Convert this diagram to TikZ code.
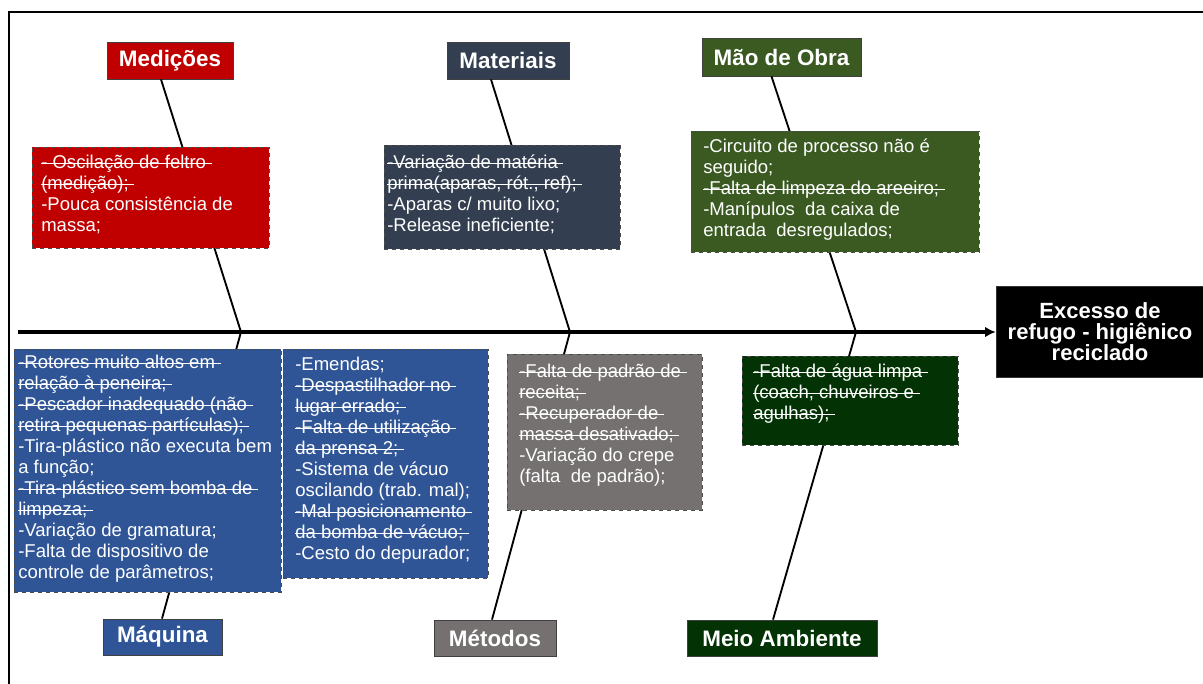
\documentclass[tikz,border=0pt]{standalone}
\usepackage{fontspec}
\setmainfont{Liberation Sans}
\usetikzlibrary{arrows.meta,positioning,calc}
\definecolor{medred}{HTML}{C00000}
\definecolor{matslate}{HTML}{333F50}
\definecolor{maogreen}{HTML}{3A5A22}
\definecolor{maqblue}{HTML}{2F5597}
\definecolor{metgray}{HTML}{767171}
\definecolor{meiogreen}{HTML}{033305}
\newsavebox\strkbox
\newcommand\strk[1]{\sbox\strkbox{#1}\usebox\strkbox\llap{\rule[0.27em]{\wd\strkbox}{0.6pt}}\rule[0.27em]{0.3em}{0.6pt}}

\begin{document}
\begin{tikzpicture}[x=0.75pt,y=-0.75pt,>=Latex]
\tikzset{lbl/.style 2 args={draw=black!75,line width=0.6pt,text=white,inner sep=0pt,font=\fontsize{16.8}{18}\selectfont\bfseries,minimum width=#1*0.75pt,minimum height=#2*0.75pt},
det/.style 2 args={draw=black!70,dashed,line width=0.6pt,anchor=north west,inner sep=0pt,minimum width=#1*0.75pt,minimum height=#2*0.75pt},
txt/.style={anchor=north west,inner sep=0pt,align=left,text=white,font=\fontsize{13.9}{15.75}\selectfont,execute at begin node=\strut},
bone/.style={line width=1.4pt,draw=black},
spine/.style={line width=2.8pt,draw=black,-{Latex[length=8pt,width=8pt]}}}
\useasboundingbox (0,0) rectangle (1203,683);
\clip (0,0) rectangle (1203,683);
\fill[white] (0,0) rectangle (1203,683);
\draw[line width=1.6pt] (9,12) rectangle (1260,740);
% categories
\node[lbl={126}{37},fill=medred] (med) at (170,60.5) {Medições};
\node[lbl={122}{37},fill=matslate] (mat) at (508,60.5) {Materiais};
\node[lbl={159}{38},fill=maogreen] (mao) at (781.5,57) {Mão de Obra};
\node[lbl={119}{36},fill=maqblue] (maq) at (162.5,637) {Máquina};
\node[lbl={122}{36},fill=metgray] (met) at (495,638) {Métodos};
\node[lbl={190}{36},fill=meiogreen] (meio) at (782,638) {Meio Ambiente};
% spine and bones
\coordinate (tail) at (18,332);
\coordinate (j1) at (241,332);
\coordinate (j2) at (570,332);
\coordinate (j3) at (856,332);
\draw[bone] ($(med.south)+(-9,0)$) -- (j1);
\draw[bone] ($(maq.north)+(-0.5,0)$) -- (j1);
\draw[bone] ($(mat.south)+(-17,0)$) -- (j2);
\draw[bone] ($(met.north)+(-3,0)$) -- (j2);
\draw[bone] ($(mao.south)+(-10,0)$) -- (j3);
\draw[bone] ($(meio.north)+(-9,0)$) -- (j3);
% causes
\node[det={237}{101},fill=medred] (medbox) at (32,147) {};
\node[txt,below right=6pt and 6.75pt of medbox.north west] (medtxt) {\strk{- Oscilação de feltro}\\\strk{(medição);}\\-Pouca consistência de\\massa;};
\node[det={236}{104},fill=matslate] (matbox) at (384,145) {};
\node[txt,below right=7.5pt and 2.25pt of matbox.north west] (mattxt) {\strk{-Variação de matéria}\\\strk{prima(aparas, rót., ref);}\\-Aparas c/ muito lixo;\\-Release ineficiente;};
\node[det={288}{121},fill=maogreen] (maobox) at (691,131) {};
\node[txt,below right=6pt and 9pt of maobox.north west] (maotxt) {-Circuito de processo não é\\seguido;\\\strk{-Falta de limpeza do areeiro;}\\-Manípulos\ \ da caixa de\\entrada\ \ desregulados;};
\node[det={267}{243},fill=maqblue] (maqbox) at (14,349) {};
\node[txt,below right=4.5pt and 3pt of maqbox.north west] (maqtxt) {\strk{-Rotores muito altos em}\\\strk{relação à peneira;}\\\strk{-Pescador inadequado (não}\\\strk{retira pequenas partículas);}\\-Tira-plástico não executa bem\\a função;\\\strk{-Tira-plástico sem bomba de}\\\strk{limpeza;}\\-Variação de gramatura;\\-Falta de dispositivo de\\controle de parâmetros;};
\node[det={205}{229},fill=maqblue] (maqbox2) at (283,349) {};
\node[txt,below right=6pt and 9pt of maqbox2.north west] (maqtxt2) {-Emendas;\\\strk{-Despastilhador no}\\\strk{lugar errado;}\\\strk{-Falta de utilização}\\\strk{da prensa 2;}\\-Sistema de vácuo\\oscilando (trab. mal);\\\strk{-Mal posicionamento}\\\strk{da bomba de vácuo;}\\-Cesto do depurador;};
\node[det={195}{156},fill=metgray] (metbox) at (507,354) {};
\node[txt,below right=7.5pt and 9pt of metbox.north west] (mettxt) {\strk{-Falta de padrão de}\\\strk{receita;}\\\strk{-Recuperador de}\\\strk{massa desativado;}\\-Variação do crepe\\(falta\ \ de padrão);};
\node[det={216}{89},fill=meiogreen] (meiobox) at (742,356) {};
\node[txt,below right=6pt and 8.25pt of meiobox.north west] (meiotxt) {\strk{-Falta de água limpa}\\\strk{(coach, chuveiros e}\\\strk{agulhas);}};
% effect
\node[draw=black!80,fill=black,text=white,align=center,inner sep=0pt,font=\fontsize{16.5}{16}\selectfont\bfseries,minimum width=156pt,minimum height=68.25pt] (eff) at (1100,331.5) {Excesso de\\refugo - higiênico\\reciclado};
\draw[spine] (tail) -- (tail -| eff.west);
\end{tikzpicture}
\end{document}
